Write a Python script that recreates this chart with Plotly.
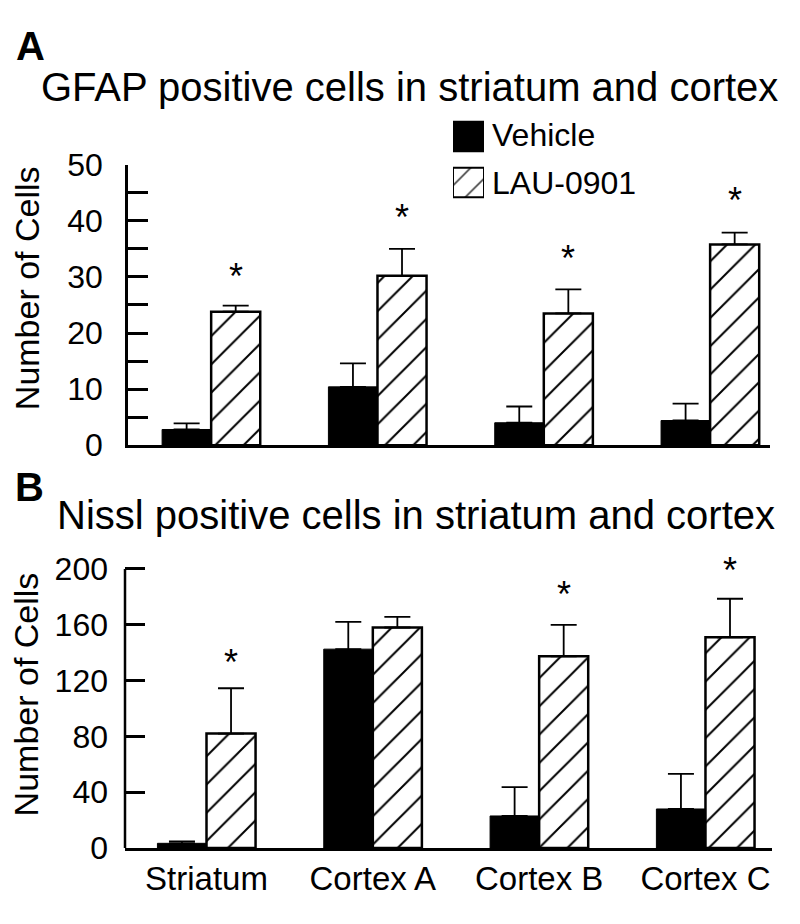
import plotly.graph_objects as go

# ---------------- data ----------------
categories = ["Striatum", "Cortex A", "Cortex B", "Cortex C"]

gfap_vehicle = [2.8, 10.4, 4.0, 4.4]
gfap_vehicle_err = [1.1, 4.2, 2.9, 3.0]
gfap_lau = [23.8, 30.2, 23.5, 35.8]
gfap_lau_err = [1.1, 4.8, 4.3, 2.1]
gfap_star = [31.3, 41.9, 34.5, 44.8]

nissl_vehicle = [3.4, 142.5, 23.0, 28.0]
nissl_vehicle_err = [1.4, 19.5, 20.6, 25.2]
nissl_lau = [82.0, 158.0, 137.4, 151.0]
nissl_lau_err = [32.5, 7.6, 22.5, 27.6]
nissl_star = [137.6, None, 186.4, 203.6]

gfap_ticks = [0, 5, 10, 15, 20, 25, 30, 35, 40, 45, 50]
gfap_ticktext = ["0", "", "10", "", "20", "", "30", "", "40", "", "50"]
nissl_ticks = [0, 40, 80, 120, 160, 200]
nissl_ticktext = ["0", "40", "80", "120", "160", "200"]

legend_names = ["Vehicle", "LAU-0901"]

# ---------------- figure ----------------
# the page body has an 8 px margin; the figure is sized so the page is 800x924
PAGE_W, PAGE_H, BODY = 800, 924, 8
W, H = PAGE_W - 2 * BODY, PAGE_H - 2 * BODY
FONT = "Liberation Sans, Arial, Helvetica, sans-serif"
xs = list(range(len(categories)))
BARW = 0.295
GAP = 1 - 2 * BARW

GFAP_MAX = gfap_ticks[-1]
NISSL_MAX = nissl_ticks[-1]
NISSL_TOP = 210  # a little head-room above the axis for the asterisks


def px_x(p):
    return (p - BODY) / W


def px_y(p):
    return (PAGE_H - BODY - p) / H


fig = go.Figure()

hatch = dict(shape="/", fgcolor="black", bgcolor="white", fgopacity=1,
             size=20, solidity=0.1)
ann = []


def add_panel(vehicle, vehicle_err, lau, lau_err, stars, xa, ya):
    fig.add_trace(go.Bar(
        x=xs, y=vehicle, name=legend_names[0], xaxis=xa, yaxis=ya,
        marker=dict(color="black", line=dict(color="black", width=1)),
        error_y=dict(type="data", array=vehicle_err, arrayminus=[0] * len(xs),
                     symmetric=False, color="black", thickness=1.8, width=13),
        showlegend=False,
    ))
    fig.add_trace(go.Bar(
        x=xs, y=lau, name=legend_names[1], xaxis=xa, yaxis=ya,
        marker=dict(color="white", line=dict(color="black", width=2.5), pattern=hatch),
        error_y=dict(type="data", array=lau_err, arrayminus=[0] * len(xs),
                     symmetric=False, color="black", thickness=1.8, width=13),
        showlegend=False,
    ))
    for x, s in zip(xs, stars):
        if s is None:
            continue
        ann.append(dict(text="*", x=x + BARW / 2, y=s, xref=xa, yref=ya,
                        xanchor="center", yanchor="middle", yshift=-7, showarrow=False,
                        font=dict(size=36, family=FONT, color="black")))


add_panel(gfap_vehicle, gfap_vehicle_err, gfap_lau, gfap_lau_err, gfap_star, "x", "y")
add_panel(nissl_vehicle, nissl_vehicle_err, nissl_lau, nissl_lau_err, nissl_star, "x2", "y2")

# legend swatches drawn as bars in a hidden mini axis
fig.add_trace(go.Bar(
    y=[0, 1], x=[1, 1], orientation="h", xaxis="x3", yaxis="y3", width=0.64,
    marker=dict(color=["black", "white"], line=dict(color="black", width=2),
                pattern=dict(shape=["", "/"], fgcolor="black", fgopacity=1,
                             size=17, solidity=0.1)),
    showlegend=False, hoverinfo="skip",
))

axis_common = dict(linecolor="black", linewidth=2.5, showgrid=False,
                   zeroline=False, mirror=False)

# panel B: 0 at 864 px, 200 at 573.3 px
b_px_per_unit = (864 - 573.3) / NISSL_MAX
b_top_px = 864 - NISSL_TOP * b_px_per_unit

fig.update_layout(
    width=W, height=H,
    margin=dict(l=0, r=0, t=0, b=0),
    paper_bgcolor="white", plot_bgcolor="white",
    barmode="group", bargap=GAP, bargroupgap=0,
    font=dict(family=FONT, color="black"),
    xaxis=dict(domain=[px_x(128), px_x(770)], range=[-0.5, 3.36], anchor="y",
               ticks="", showticklabels=False, showline=True, **axis_common),
    yaxis=dict(domain=[px_y(444.5), px_y(152.5)], range=[0, GFAP_MAX], anchor="x",
               tickvals=gfap_ticks, ticktext=gfap_ticktext, ticks="inside",
               ticklen=20, tickwidth=2.5, tickcolor="black",
               tickfont=dict(size=32, family=FONT), ticklabelstandoff=16,
               showline=True, **axis_common),
    xaxis2=dict(domain=[px_x(125), px_x(772)], range=[-0.49, 3.40], anchor="y2",
                tickvals=xs, ticktext=categories, ticks="",
                tickfont=dict(size=33, family=FONT), ticklabelstandoff=0,
                showline=True, **axis_common),
    yaxis2=dict(domain=[px_y(864), px_y(b_top_px)], range=[0, NISSL_TOP], anchor="x2",
                tickvals=nissl_ticks, ticktext=nissl_ticktext, ticks="inside",
                ticklen=20, tickwidth=2.5, tickcolor="black",
                tickfont=dict(size=32, family=FONT), ticklabelstandoff=16,
                showline=False, **axis_common),
    xaxis3=dict(domain=[px_x(453), px_x(484)], range=[0, 1], anchor="y3",
                visible=False, fixedrange=True),
    yaxis3=dict(domain=[px_y(195), px_y(99)], range=[1.5, -0.5], anchor="x3",
                visible=False, fixedrange=True),
    shapes=[dict(type="line", xref="x2 domain", yref="y2", x0=0, x1=0,
                 y0=0, y1=NISSL_MAX, line=dict(color="black", width=2.5))],
)

ann.append(dict(text="<b>A</b>", x=px_x(14), y=px_y(29), xref="paper", yref="paper",
                xanchor="left", yanchor="middle", showarrow=False,
                font=dict(size=40, family=FONT)))
ann.append(dict(text="<b>B</b>", x=px_x(13), y=px_y(488), xref="paper", yref="paper",
                xanchor="left", yanchor="middle", showarrow=False,
                font=dict(size=40, family=FONT)))
ann.append(dict(text="GFAP positive cells in striatum and cortex", x=px_x(39), y=px_y(72),
                xref="paper", yref="paper", xanchor="left", yanchor="middle",
                showarrow=False, font=dict(size=40, family=FONT)))
ann.append(dict(text="Nissl positive cells in striatum and cortex", x=px_x(55), y=px_y(517),
                xref="paper", yref="paper", xanchor="left", yanchor="middle",
                showarrow=False, font=dict(size=40, family=FONT)))
ann.append(dict(text="Number of Cells", x=px_x(27), y=px_y(281), xref="paper", yref="paper",
                xanchor="center", yanchor="middle", textangle=-90, showarrow=False,
                font=dict(size=34, family=FONT)))
ann.append(dict(text="Number of Cells", x=px_x(26), y=px_y(704), xref="paper", yref="paper",
                xanchor="center", yanchor="middle", textangle=-90, showarrow=False,
                font=dict(size=34, family=FONT)))
ann.append(dict(text=legend_names[0], x=px_x(490), y=px_y(121), xref="paper", yref="paper",
                xanchor="left", yanchor="middle", showarrow=False,
                font=dict(size=32, family=FONT)))
ann.append(dict(text=legend_names[1], x=px_x(490), y=px_y(171), xref="paper", yref="paper",
                xanchor="left", yanchor="middle", showarrow=False,
                font=dict(size=32, family=FONT)))
fig.update_layout(annotations=ann)

fig.write_html("out.html")
